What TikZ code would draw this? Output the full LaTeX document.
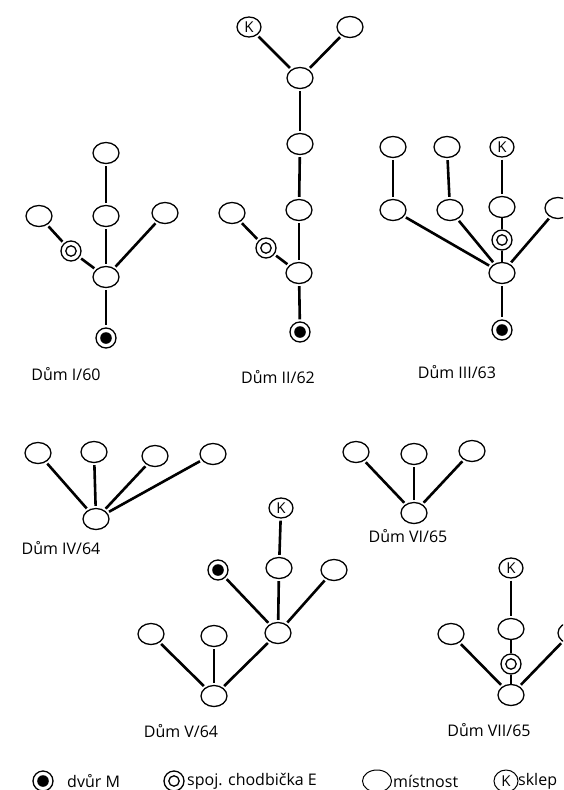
\documentclass[tikz,border=0pt]{standalone}
\usepackage{fontspec}
\setmainfont{Open Sans}
\usetikzlibrary{shapes.geometric}
\begin{document}
\begin{tikzpicture}[x=1pt,y=-1pt,
  room/.style={ellipse,draw,line width=1.3pt,minimum width=26pt,minimum height=21pt,inner sep=0pt},
  kroom/.style={room,minimum width=24pt,minimum height=20pt,font=\fontsize{15}{15}\selectfont},
  corr/.style={circle,draw,line width=1.3pt,minimum size=20pt,inner sep=0pt,
    path picture={\draw[line width=1.3pt] (path picture bounding box.center) circle (5.2pt);}},
  yard/.style={circle,draw,line width=1.3pt,minimum size=20pt,inner sep=0pt,
    path picture={\fill (path picture bounding box.center) circle (5.8pt);}},
  link/.style={line width=2.6pt,shorten <=2pt,shorten >=2pt},
  lab/.style={font=\fontsize{16}{18}\selectfont,inner sep=0pt},
  leg/.style={font=\fontsize{16}{18}\selectfont,inner sep=0pt,anchor=west},
]
\useasboundingbox (0,0) rectangle (563,790);
\clip (0,0) rectangle (563,790);
\fill[white] (0,0) rectangle (563,790);

% ---------- Dum I/60
\node[room] (Itop) at (106,153) {};
\node[room] (Imid) at (106,216) {};
\node[room] (Il) at (39,216) {};
\node[room] (Ir) at (165,213) {};
\node[corr] (Ie) at (71,251) {};
\node[room] (Ic) at (106,277) {};
\node[yard] (Im) at (106,338) {};
\node[lab] (Ilab) at (66,374) {Dům I/60};
\draw[link] (Itop) -- (Imid);
\draw[link] (Imid) -- (Ic);
\draw[link] (Ir) -- (Ic);
\draw[link] (Il) -- (Ie);
\draw[link] (Ie) -- (Ic);
\draw[link] (Ic) -- (Im);

% ---------- Dum II/62
\node[kroom] (IIk) at (249,27) {K};
\node[room] (IIr) at (350,27) {};
\node[room] (IIa) at (300,78) {};
\node[room] (IIb) at (300,144) {};
\node[room] (IIc) at (299,210) {};
\node[room] (IIl) at (232,213) {};
\node[corr] (IIe) at (266,248) {};
\node[room] (IId) at (299,273) {};
\node[yard] (IIm) at (300,332) {};
\node[lab] (IIlab) at (278,377) {Dům II/62};
\draw[link] (IIk) -- (IIa);
\draw[link] (IIr) -- (IIa);
\draw[link] (IIa) -- (IIb);
\draw[link] (IIb) -- (IIc);
\draw[link] (IIc) -- (IId);
\draw[link] (IIl) -- (IIe);
\draw[link] (IIe) -- (IId);
\draw[link] (IId) -- (IIm);

% ---------- Dum III/63
\node[room] (IIIt1) at (393,147) {};
\node[room] (IIIt2) at (447,147) {};
\node[kroom] (IIItk) at (502,147) {K};
\node[room] (IIIs1) at (393,210) {};
\node[room] (IIIs2) at (450,210) {};
\node[room] (IIIs3) at (502,207) {};
\node[room] (IIIs4) at (558,208) {};
\node[corr] (IIIe) at (502,240) {};
\node[room] (IIIc) at (502,273) {};
\node[yard] (IIIm) at (502,330) {};
\node[lab] (IIIlab) at (457,372) {Dům III/63};
\draw[link] (IIIt1) -- (IIIs1);
\draw[link] (IIIt2) -- (IIIs2);
\draw[link] (IIItk) -- (IIIs3);
\draw[link] (IIIs1) -- (IIIc);
\draw[link] (IIIs2) -- (IIIc);
\draw[link,shorten <=0pt,shorten >=0pt] (IIIs3) -- (IIIe);
\draw[link,shorten <=0pt,shorten >=0pt] (IIIe) -- (IIIc);
\draw[link] (IIIs4) -- (IIIc);
\draw[link] (IIIc) -- (IIIm);

% ---------- Dum IV/64
\node[room] (IVa) at (38,453) {};
\node[room] (IVb) at (94,452) {};
\node[room] (IVc) at (155,456) {};
\node[room] (IVd) at (213,454) {};
\node[room] (IVc0) at (96,519) {};
\node[lab] (IVlab) at (61,548) {Dům IV/64};
\draw[link] (IVa) -- (IVc0);
\draw[link] (IVb) -- (IVc0);
\draw[link] (IVc) -- (IVc0);
\draw[link] (IVd) -- (IVc0);

% ---------- Dum VI/65
\node[room] (VIa) at (356,452) {};
\node[room] (VIb) at (414,454) {};
\node[room] (VIc) at (472,451) {};
\node[room] (VIc0) at (414,513) {};
\node[lab] (VIlab) at (408,536) {Dům VI/65};
\draw[link] (VIa) -- (VIc0);
\draw[link] (VIb) -- (VIc0);
\draw[link] (VIc) -- (VIc0);

% ---------- Dum V/64
\node[kroom] (Vk) at (281,508) {K};
\node[yard] (Vm) at (218,570) {};
\node[room] (Vu) at (279,568) {};
\node[room] (Vr) at (334,570) {};
\node[room] (Vl1) at (151,634) {};
\node[room] (Vl2) at (214,636) {};
\node[room] (Vj) at (278,633) {};
\node[room] (Vb) at (214,696) {};
\node[lab] (Vlab) at (181,731) {Dům V/64};
\draw[link] (Vk) -- (Vu);
\draw[link] (Vu) -- (Vj);
\draw[link] (Vm) -- (Vj);
\draw[link] (Vr) -- (Vj);
\draw[link] (Vj) -- (Vb);
\draw[link] (Vl1) -- (Vb);
\draw[link] (Vl2) -- (Vb);

% ---------- Dum VII/65
\node[kroom] (VIIk) at (511,568) {K};
\node[room] (VIIu) at (511,629) {};
\node[room] (VIIl) at (451,634) {};
\node[room] (VIIr) at (571,633) {};
\node[corr] (VIIe) at (511,664) {};
\node[room] (VIIc) at (511,695) {};
\node[lab] (VIIlab) at (489,730) {Dům VII/65};
\draw[link] (VIIk) -- (VIIu);
\draw[link,shorten <=0pt,shorten >=0pt] (VIIu) -- (VIIe);
\draw[link,shorten <=0pt,shorten >=0pt] (VIIe) -- (VIIc);
\draw[link] (VIIl) -- (VIIc);
\draw[link] (VIIr) -- (VIIc);

% ---------- legend
\node[yard] (LM) at (43,781) {};
\node[leg] (LMt) at (67,781) {dvůr M};
\node[corr] (LE) at (174,781) {};
\node[leg] (LEt) at (187,781) {spoj. chodbička E};
\node[room,line width=1pt,minimum width=29pt,minimum height=22pt] (LR) at (377,781) {};
\node[leg] (LRt) at (393,781) {místnost};
\node[kroom,line width=1pt,minimum height=22pt] (LK) at (506,781) {K};
\node[leg] (LKt) at (518,781) {sklep};
\end{tikzpicture}
\end{document}
